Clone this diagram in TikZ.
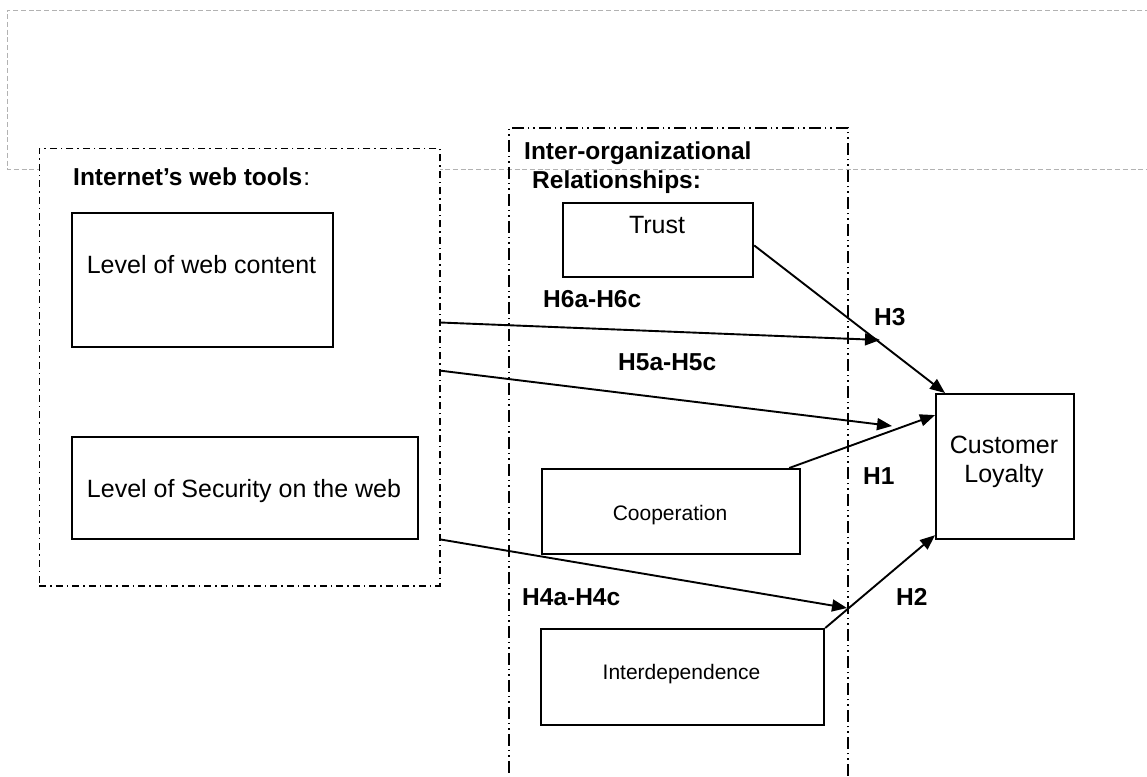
\documentclass[tikz,border=0pt]{standalone}
\usepackage{fontspec}
\setmainfont{Liberation Sans}
\usetikzlibrary{arrows.meta,calc}
\begin{document}
\begin{tikzpicture}[x=1pt,y=-1pt,
  box/.style={draw,line width=2.2pt,fill=white,inner sep=0pt,anchor=north west},
  grpA/.style={draw,line width=1.7pt,inner sep=0pt,anchor=north west,
    dash pattern=on 7pt off 4pt on 1.5pt off 4pt},
  grpB/.style={draw,line width=1.7pt,inner sep=0pt,anchor=north west,
    dash pattern=on 12pt off 4pt on 1.5pt off 4pt on 1.5pt off 4pt},
  frame/.style={draw=black!30,line width=0.9pt,dash pattern=on 5pt off 2.7pt},
  arr/.style={line width=1.9pt,-{Triangle[length=15pt,width=12pt]}},
  txt/.style={inner sep=0pt,font=\fontsize{25}{30}\selectfont},
  small/.style={inner sep=0pt,font=\fontsize{21}{25}\selectfont},
  lbl/.style={inner sep=0pt,anchor=base west,font=\fontsize{24.5}{29}\selectfont\bfseries}]
\clip (0,0) rectangle (1147,776);
\fill[white] (0,0) rectangle (1147,776);
% light grey page frame
\draw[frame] (1150,10) -- (7,10) -- (7,169) -- (1150,169);
% group containers
\node[grpA,fill=white,minimum width=400.5pt,minimum height=437.5pt] (grpL) at (38.5,147.5) {};
\node[grpB,minimum width=339pt,minimum height=660pt] (grpM) at (508,127) {};
% boxes
\node[box,minimum width=261pt,minimum height=134pt] (content) at (71,212) {};
\node[box,minimum width=346pt,minimum height=102pt] (security) at (71,436) {};
\node[box,minimum width=190pt,minimum height=74pt] (trust) at (562,202) {};
\node[box,minimum width=258pt,minimum height=85pt] (coop) at (541,468) {};
\node[box,minimum width=283pt,minimum height=96pt] (interdep) at (540,628) {};
\node[box,minimum width=138pt,minimum height=145pt] (loyalty) at (935,393) {};
% texts
\node[lbl] (tgl) at (73,185) {Internet’s web tools\mdseries\kern1pt:};
\node[lbl] (tgm1) at (524,159) {Inter-organizational};
\node[lbl] (tgm2) at (532,188) {Relationships:};
\node[txt,anchor=base] (tcontent) at (201.5,273) {Level of web content};
\node[txt,anchor=base] (tsecurity) at (244,497) {Level of Security on the web};
\node[txt,anchor=base] (ttrust) at (657,233) {Trust};
\node[small,anchor=base] (tcoop) at (670,520) {Cooperation};
\node[small,anchor=base] (tinter) at (681.5,679) {Interdependence};
\node[txt,anchor=base] (tloy1) at (1004,453) {Customer};
\node[txt,anchor=base] (tloy2) at (1004,482) {Loyalty};
% connector ends
\coordinate (s6) at ($(grpL.north east)!0.3985!(grpL.south east)$);
\coordinate (s5) at ($(grpL.north east)!0.5082!(grpL.south east)$);
\coordinate (s4) at ($(grpL.north east)!0.8925!(grpL.south east)$);
\coordinate (e6) at (880,340);
\coordinate (e5) at (892,426);
\coordinate (e4) at (847,608);
\coordinate (h3s) at ($(trust.north east)!0.57!(trust.south east)$);
\coordinate (h3e) at ($(loyalty.north west)+(10,0)$);
\coordinate (h1s) at ($(coop.north east)+(-12,0)$);
\coordinate (h1e) at ($(loyalty.north west)!0.15!(loyalty.south west)$);
\coordinate (h2e) at ($(loyalty.south west)+(0,-5)$);
% connectors
\draw[arr] (s6) -- (e6);
\draw[arr] (s5) -- (e5);
\draw[arr] (s4) -- (e4);
\draw[arr] (h3s) -- (h3e);
\draw[arr] (h1s) -- (h1e);
\draw[arr] (interdep.north east) -- (h2e);
% hypothesis labels
\node[lbl] (l6) at (543,307) {H6a-H6c};
\node[lbl] (l5) at (618,370) {H5a-H5c};
\node[lbl] (l4) at (522,605) {H4a-H4c};
\node[lbl] (l3) at (874,325) {H3};
\node[lbl] (l1) at (863,484) {H1};
\node[lbl] (l2) at (896,605) {H2};
\end{tikzpicture}
\end{document}
